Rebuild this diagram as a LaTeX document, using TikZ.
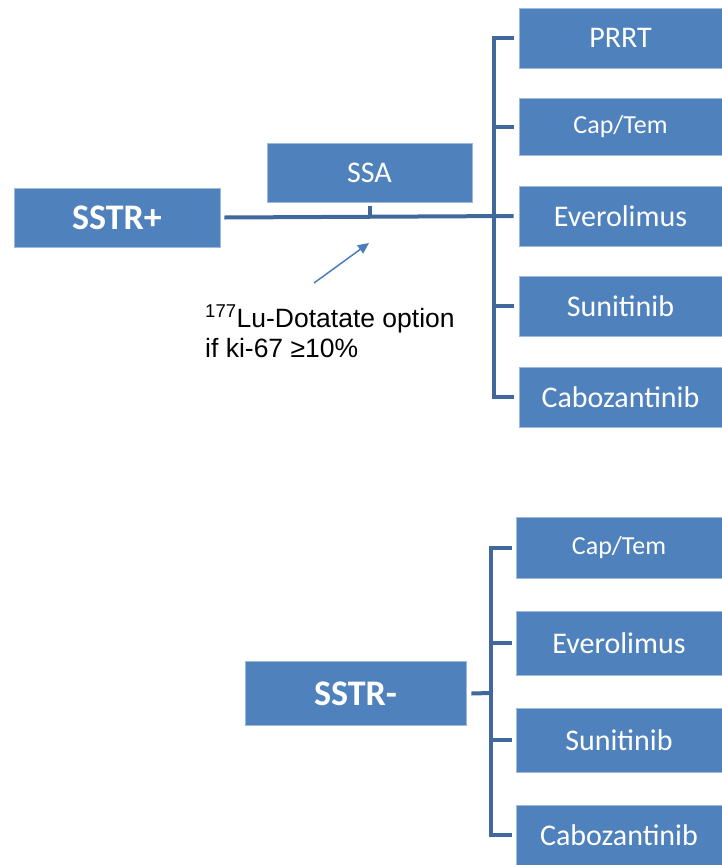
\documentclass[tikz,border=0pt]{standalone}
\usepackage{fontspec}
\setmainfont{Carlito}
\newfontfamily\notefont{Liberation Sans}
\usetikzlibrary{positioning,arrows.meta}
\definecolor{boxblue}{HTML}{4F81BD}
\definecolor{edgeblue}{HTML}{9DB9DC}
\definecolor{linkblue}{HTML}{41689C}
\definecolor{arrowblue}{HTML}{4A7EBB}

\begin{document}
\begin{tikzpicture}[x=1pt,y=-1pt,
  every node/.style={font=\fontsize{30}{36}\selectfont},
  tx/.style={draw=edgeblue, line width=.6pt, fill=boxblue, text=white,
             minimum width=203pt, minimum height=59pt, inner sep=0pt},
  small/.style={font=\fontsize{26}{31}\selectfont},
  rootbox/.style={tx, font=\fontsize{36}{42}\selectfont\bfseries},
  link/.style={draw=linkblue, line width=4pt},
  pointer/.style={draw=arrowblue, line width=1.5pt,
                  -{Triangle[length=11pt,width=10pt]}},
]
  \useasboundingbox (0,0) rectangle (722,865);

  % SSTR+ branch
  \node[rootbox, minimum width=206pt] (plus) at (117,217.5) {SSTR+};
  \node[tx, minimum width=205pt] (ssa) at (369.5,172.5) {SSA};
  \node[tx, minimum height=60pt] (prrt) at (620.5,38) {PRRT};
  \node[tx, small, minimum height=57pt] (capA) at (620.5,127) {Cap/Tem};
  \node[tx, minimum height=60pt] (everoA) at (620.5,216) {Everolimus};
  \node[tx, minimum height=60pt] (suniA) at (620.5,306) {Sunitinib};
  \node[tx, minimum height=60pt] (caboA) at (620.5,397) {Cabozantinib};

  \coordinate (spineA) at (494,217);
  \draw[link] ([xshift=4pt]plus.east) -- ([xshift=-5pt]everoA.west);
  \draw[link] ([xshift=-5pt]prrt.west) -| (spineA) |- ([xshift=-5pt]caboA.west);
  \foreach \n in {capA,suniA}
    \draw[link] (spineA |- \n.west) -- ([xshift=-5pt]\n.west);
  \draw[link] ([yshift=-4pt]ssa.south) -- (ssa.south |- plus.east);

  % note on the SSA line
  \coordinate (lutail) at (314,283);
  \coordinate (lutip) at (369,243);
  \draw[pointer] (lutail) -- (lutip);
  \node[anchor=base west, inner sep=0pt, align=left,
        font=\notefont\fontsize{26.5}{30}\selectfont] (lunote) at (205,357)
    {\textsuperscript{177}Lu-Dotatate option\\if ki-67 ≥10\%};

  % SSTR- branch
  \node[rootbox, minimum width=221pt, minimum height=64pt] (minus) at (355.5,693.5) {SSTR-};
  \node[tx, small, minimum width=206pt, minimum height=61pt] (capB) at (619,547.5) {Cap/Tem};
  \node[tx, minimum width=206pt, minimum height=64pt] (everoB) at (619,643) {Everolimus};
  \node[tx, minimum width=206pt, minimum height=64pt] (suniB) at (619,740) {Sunitinib};
  \node[tx, minimum width=206pt, minimum height=60pt] (caboB) at (619,835) {Cabozantinib};

  \coordinate (spineB) at (491,693);
  \draw[link] ([xshift=5pt]minus.east) -- (spineB);
  \draw[link] ([xshift=-4pt]capB.west) -| (spineB) |- ([xshift=-4pt]caboB.west);
  \foreach \n in {everoB,suniB}
    \draw[link] (spineB |- \n.west) -- ([xshift=-4pt]\n.west);
\end{tikzpicture}
\end{document}
